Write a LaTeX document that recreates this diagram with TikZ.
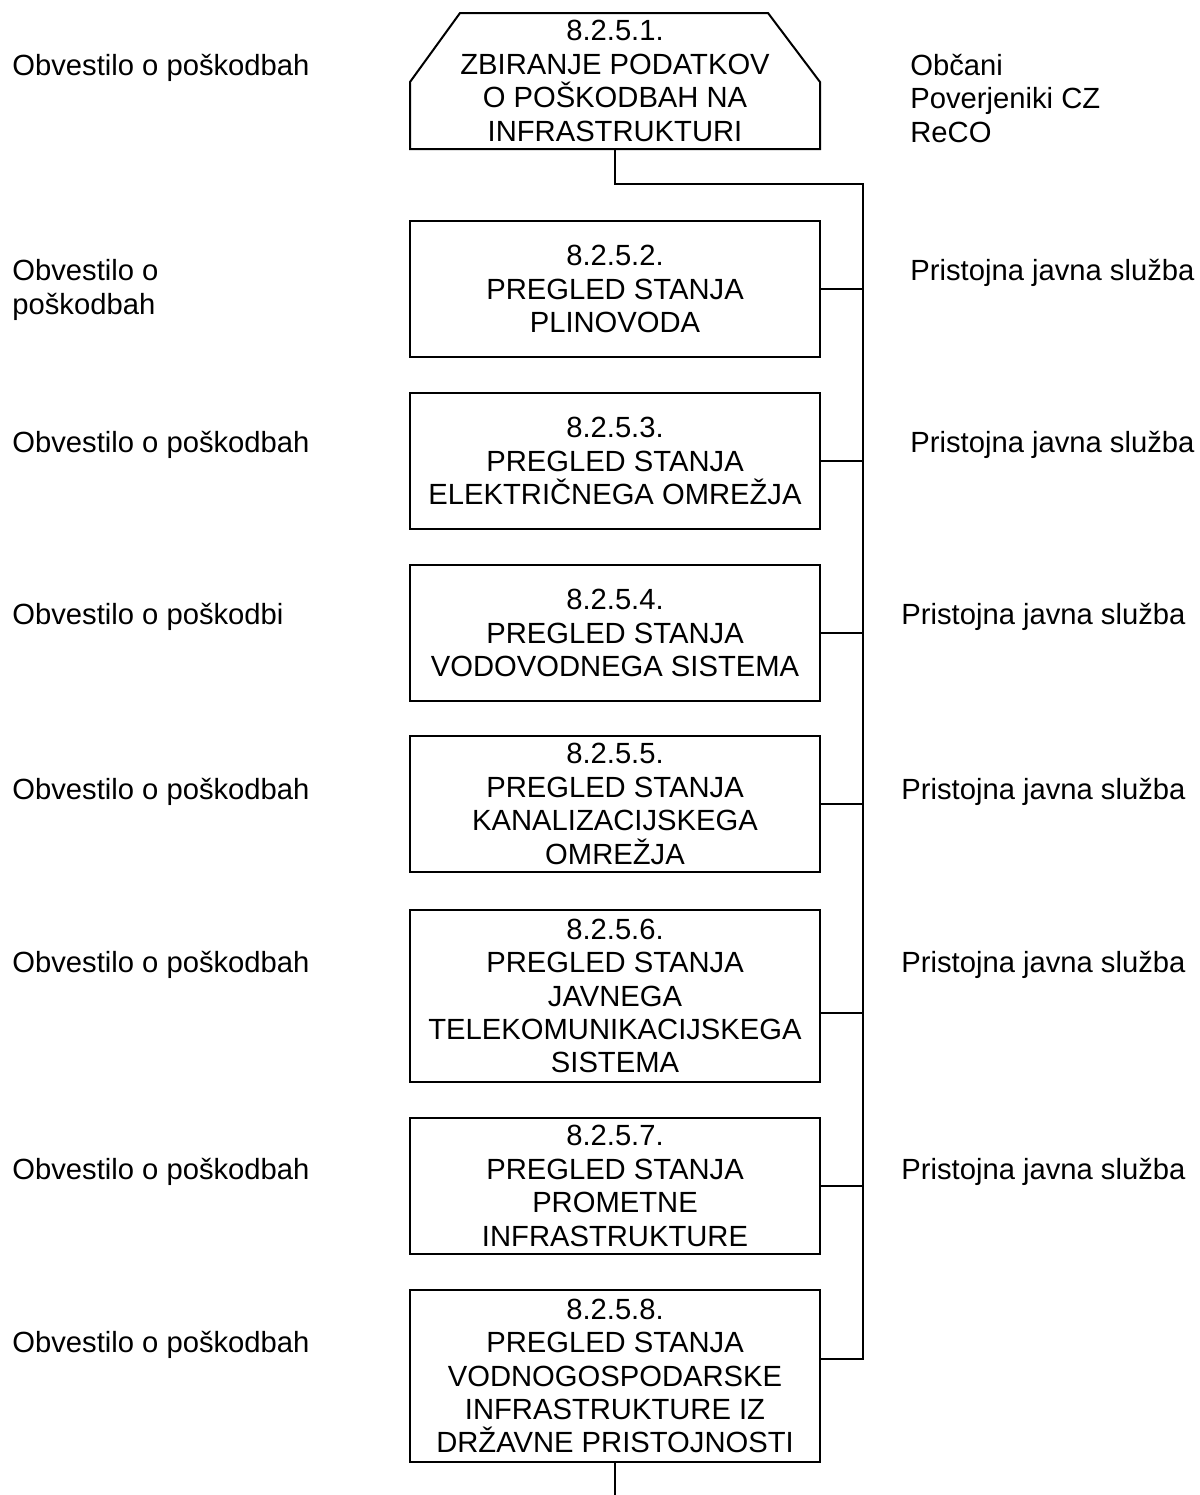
\documentclass[tikz,border=0pt]{standalone}
\usepackage{fontspec}
\setmainfont{Liberation Sans}
\usepackage{tikz}
\usetikzlibrary{calc}

\tikzset{
  blok/.style={draw, line width=1pt, outer sep=0pt, inner sep=0pt,
    minimum width=205pt, minimum height=68pt, align=center},
  visok/.style={minimum height=86pt},
  opis/.style={anchor=base west, inner sep=0pt, align=left},
  povezava/.style={line width=1pt},
}

\begin{document}
\begin{tikzpicture}[x=0.5pt, y=-0.5pt,
  every node/.style={font=\fontsize{14.6}{16.7}\selectfont}]
% \clip (0,0) rectangle (1200,1495);
\useasboundingbox (0,0) rectangle (1200,1495);

% Drawing box 8.2.5.1 (chamfered top)
\node [blok, draw=none] (b1) at (615,81) {8.2.5.1.\\ZBIRANJE PODATKOV\\O POŠKODBAH NA\\INFRASTRUKTURI};
\draw [povezava] ([xshift=25pt]b1.north west) -- ([xshift=-26pt]b1.north east)
  -- ([yshift=-34.5pt]b1.north east) -- (b1.south east) -- (b1.south west)
  -- ([yshift=-34.5pt]b1.north west) -- cycle;

% Drawing boxes 8.2.5.2 - 8.2.5.8
\node [blok] (b2) at (615,289) {8.2.5.2.\\PREGLED STANJA\\PLINOVODA};
\node [blok] (b3) at (615,461) {8.2.5.3.\\PREGLED STANJA\\ELEKTRIČNEGA OMREŽJA};
\node [blok] (b4) at (615,633) {8.2.5.4.\\PREGLED STANJA\\VODOVODNEGA SISTEMA};
\node [blok] (b5) at (615,804) {8.2.5.5.\\PREGLED STANJA\\KANALIZACIJSKEGA\\OMREŽJA};
\node [blok, visok] (b6) at (615,996) {8.2.5.6.\\PREGLED STANJA\\JAVNEGA\\TELEKOMUNIKACIJSKEGA\\SISTEMA};
\node [blok] (b7) at (615,1186) {8.2.5.7.\\PREGLED STANJA\\PROMETNE\\INFRASTRUKTURE};
\node [blok, visok] (b8) at (615,1376) {8.2.5.8.\\PREGLED STANJA\\VODNOGOSPODARSKE\\INFRASTRUKTURE IZ\\DRŽAVNE PRISTOJNOSTI};

% Drawing connectors
\coordinate (busvrh) at (863,184);
\coordinate (p6) at ([yshift=-8.5pt]b6.east);
\coordinate (p8) at ([yshift=8.5pt]b8.east);
\coordinate (konec) at (615,1495);
\draw [povezava] (b1.south) -- (b1.south |- busvrh) -- (busvrh) -- (p8 -| busvrh) -- (p8);
\draw [povezava] (b2.east) -- (b2.east -| busvrh);
\draw [povezava] (b3.east) -- (b3.east -| busvrh);
\draw [povezava] (b4.east) -- (b4.east -| busvrh);
\draw [povezava] (b5.east) -- (b5.east -| busvrh);
\draw [povezava] (p6) -- (p6 -| busvrh);
\draw [povezava] (b7.east) -- (b7.east -| busvrh);
\draw [povezava] (b8.south) -- (konec);

% Drawing left labels (base = last line)
\node [opis] (l1) at (12,75) {Obvestilo o poškodbah};
\node [opis] (l2) at (12,314) {Obvestilo o\\poškodbah};
\node [opis] (l3) at (12,452) {Obvestilo o poškodbah};
\node [opis] (l4) at (12,624) {Obvestilo o poškodbi};
\node [opis] (l5) at (12,799) {Obvestilo o poškodbah};
\node [opis] (l6) at (12,972) {Obvestilo o poškodbah};
\node [opis] (l7) at (12,1179) {Obvestilo o poškodbah};
\node [opis] (l8) at (12,1352) {Obvestilo o poškodbah};

% Drawing right labels
\node [opis] (r1) at (910,142) {Občani\\Poverjeniki CZ\\ReCO};
\node [opis] (r2) at (910,280) {Pristojna javna služba};
\node [opis] (r3) at (910,452) {Pristojna javna služba};
\node [opis] (r4) at (901,624) {Pristojna javna služba};
\node [opis] (r5) at (901,799) {Pristojna javna služba};
\node [opis] (r6) at (901,972) {Pristojna javna služba};
\node [opis] (r7) at (901,1179) {Pristojna javna služba};
\end{tikzpicture}
\end{document}
